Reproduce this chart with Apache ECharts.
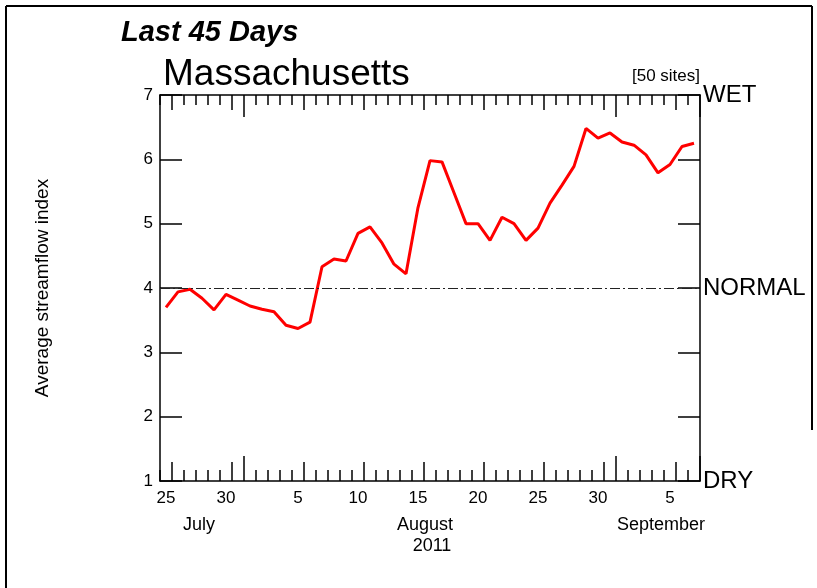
<!DOCTYPE html>
<html>
<head>
<meta charset="utf-8">
<script src="https://cdn.jsdelivr.net/npm/echarts@6/dist/echarts.min.js"></script>
<style>
  html, body { margin: 0; padding: 0; background: #fff; }
  #chart { width: 817px; height: 588px; }
</style>
</head>
<body>
<div id="chart"></div>
<script>
// day of month for each of the 45 days, Jul 25 .. Sep 7, 2011
var days = ['25','26','27','28','29','30','31',
  '1','2','3','4','5','6','7','8','9','10','11','12','13','14','15','16',
  '17','18','19','20','21','22','23','24','25','26','27','28','29','30','31',
  '1','2','3','4','5','6','7'];
// average streamflow index, one value per day
var streamflow = [3.70,3.94,3.98,3.84,3.66,3.90,3.81,3.72,3.67,3.63,3.42,3.37,3.47,4.33,4.45,
  4.42,4.85,4.95,4.70,4.37,4.22,5.25,5.98,5.96,5.48,5.00,5.00,4.74,5.10,5.00,
  4.74,4.93,5.32,5.60,5.89,6.48,6.33,6.41,6.27,6.22,6.07,5.79,5.92,6.20,6.25];
var rightLabels = {1: 'DRY', 4: 'NORMAL', 7: 'WET'};
var normalLevel = 4;

var font = 'Liberation Sans, Arial, sans-serif';
var myChart = echarts.init(document.getElementById('chart'));

var gridBox = {left: 160, right: 117, top: 95, bottom: 107};

function isMedium(i) {
  var d = +days[i];
  return d % 5 == 1;
}
function isLong(i) {
  return days[i] == '1';
}

function tickAxis(gridIndex, pos, len, filter, showLine) {
  return {
    type: 'category',
    gridIndex: gridIndex,
    position: pos,
    data: days,
    boundaryGap: true,
    axisLine: {show: showLine, lineStyle: {color: '#000', width: 1.5}},
    axisTick: {show: true, inside: true, length: len, interval: filter,
      lineStyle: {color: '#000', width: 1.5}},
    axisLabel: {show: false},
    splitLine: {show: false}
  };
}

var bottomMain = tickAxis(0, 'bottom', 11, 0, true);
bottomMain.axisLabel = {
  show: true,
  interval: function (i, v) { return +v % 5 == 0; },
  color: '#000',
  fontFamily: font,
  fontSize: 17,
  margin: 9
};

function monthText(label, x, y) {
  return {type: 'text', x: x, y: y,
    style: {text: label, fontFamily: font, fontSize: 18, fill: '#000',
      align: 'center', verticalAlign: 'middle'}};
}

var option = {
  animation: false,
  backgroundColor: '#fff',
  title: [
    {text: 'Last 45 Days', left: 116, top: 13,
      textStyle: {fontFamily: font, fontSize: 29, fontWeight: 'bold', fontStyle: 'italic', color: '#000'}},
    {text: 'Massachusetts', left: 158, top: 51,
      textStyle: {fontFamily: font, fontSize: 37, fontWeight: 'normal', color: '#000'}},
    {text: '[50 sites]', right: 112, top: 63,
      textStyle: {fontFamily: font, fontSize: 17, fontWeight: 'normal', color: '#000'}}
  ],
  grid: [
    Object.assign({}, gridBox),
    Object.assign({}, gridBox),
    Object.assign({}, gridBox)
  ],
  xAxis: [
    bottomMain,
    tickAxis(0, 'top', 10, 0, true),
    tickAxis(1, 'bottom', 19, function (i) { return isMedium(i); }, false),
    tickAxis(1, 'top', 15, function (i) { return isMedium(i); }, false),
    tickAxis(2, 'bottom', 25, function (i) { return isLong(i); }, false),
    tickAxis(2, 'top', 22, function (i) { return isLong(i); }, false)
  ],
  yAxis: [
    {
      type: 'value', gridIndex: 0, position: 'left', min: 1, max: 7, interval: 1,
      name: 'Average streamflow index', nameLocation: 'middle', nameGap: 108, nameRotate: 90,
      nameTextStyle: {fontFamily: font, fontSize: 19, color: '#000'},
      axisLine: {show: true, lineStyle: {color: '#000', width: 1.5}},
      axisTick: {show: true, inside: true, length: 22, lineStyle: {color: '#000', width: 1.5}},
      axisLabel: {color: '#000', fontFamily: font, fontSize: 17, margin: 7},
      splitLine: {show: false}
    },
    {
      type: 'value', gridIndex: 0, position: 'right', min: 1, max: 7, interval: 1,
      axisLine: {show: true, lineStyle: {color: '#000', width: 1.5}},
      axisTick: {show: true, inside: true, length: 22, lineStyle: {color: '#000', width: 1.5}},
      axisLabel: {color: '#000', fontFamily: font, fontSize: 24, margin: 3,
        formatter: function (v) { return rightLabels[v] || ''; }},
      splitLine: {show: false}
    },
    {type: 'value', gridIndex: 1, min: 1, max: 7, show: false},
    {type: 'value', gridIndex: 2, min: 1, max: 7, show: false}
  ],
  graphic: [
    {type: 'line', shape: {x1: 6, y1: 6, x2: 812, y2: 6}, style: {stroke: '#000', lineWidth: 2}},
    {type: 'line', shape: {x1: 6, y1: 6, x2: 6, y2: 600}, style: {stroke: '#000', lineWidth: 2}},
    {type: 'line', shape: {x1: 812, y1: 6, x2: 812, y2: 430}, style: {stroke: '#000', lineWidth: 2}},
    monthText('July', 199, 525),
    monthText('August', 425, 525),
    monthText('2011', 432, 546),
    monthText('September', 661, 525)
  ],
  series: [{
    type: 'line',
    xAxisIndex: 0,
    yAxisIndex: 0,
    data: streamflow,
    showSymbol: false,
    symbol: 'none',
    lineStyle: {color: '#ff0000', width: 3},
    itemStyle: {color: '#ff0000'},
    markLine: {
      silent: true,
      symbol: 'none',
      label: {show: false},
      lineStyle: {color: '#222', width: 1.2, type: [10, 3, 2, 3]},
      data: [{yAxis: normalLevel}]
    }
  }]
};

myChart.setOption(option);
</script>
</body>
</html>
